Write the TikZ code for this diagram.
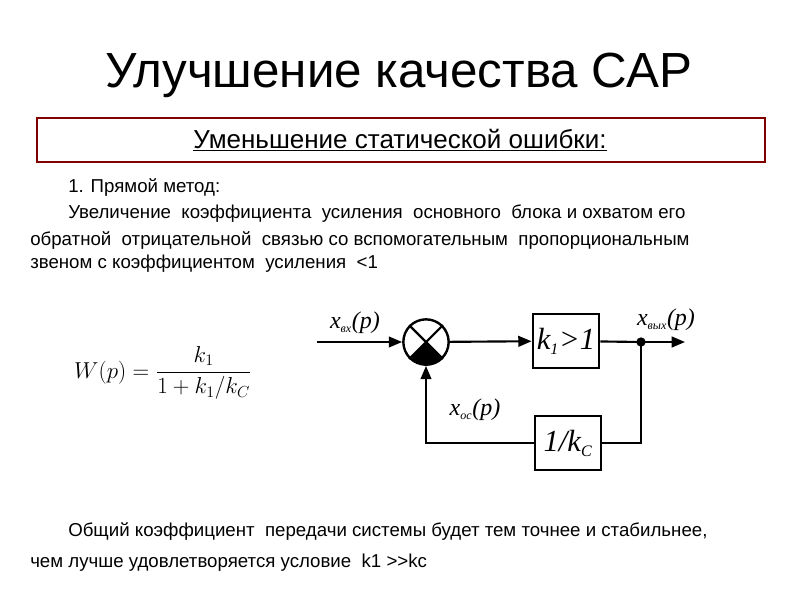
\documentclass[tikz,border=0pt]{standalone}
\usepackage{fontspec}
\setmainfont{Liberation Sans}
\newfontfamily\serifit{Liberation Serif}
\usetikzlibrary{arrows.meta}
\begin{document}
\begin{tikzpicture}[x=0.75pt,y=-0.75pt,
  blk/.style={draw,line width=1.6pt,minimum width=50pt,minimum height=40pt,inner sep=0pt},
  lin/.style={line width=1.6pt},
  arr/.style={lin,-{Triangle[length=10pt,width=8pt]}},
  txt/.style={anchor=west,inner sep=0pt,font=\fontsize{14}{16}\selectfont},
  lab/.style={inner sep=0pt,font=\serifit\itshape\fontsize{18}{20}\selectfont}]
\useasboundingbox (0,0) rectangle (800,600);
\node[inner sep=0pt,font=\fontsize{37}{40}\selectfont] (title) at (399,75) {Улучшение качества САР};
\node[draw=red!50!black,line width=1.6pt,minimum width=546pt,minimum height=33pt,inner sep=0pt] (hdr) at (401,140) {};
\node[inner sep=0pt,font=\fontsize{19.5}{22}\selectfont] (hdrt) at (400,140) {\underline{Уменьшение статической ошибки:}};
\node[txt] (t1) at (68,188) {1. Прямой метод:};
\node[txt] (t2) at (68,214) {Увеличение\ \ коэффициента\ \ усиления\ \ основного\ \ блока\ и\ охватом\ его};
\node[txt] (t3) at (30,241) {обратной\ \ отрицательной\ \ связью\ со\ вспомогательным\ \ пропорциональным};
\node[txt] (t4) at (30,264) {звеном с коэффициентом\ \ усиления\ \ <1};
\node[txt] (t5) at (68,532) {Общий\ коэффициент\ \ передачи\ системы\ будет\ тем\ точнее\ и\ стабильнее,};
\node[txt] (t6) at (30,563) {чем лучше удовлетворяется условие\ \ k1 >{}>kc};
\node[inner sep=0pt,font=\fontsize{17}{18}\selectfont] (W) at (163,373) {$\displaystyle W(p)=\frac{k_1}{1+k_1/k_C}$};
% diagram
\coordinate (in) at (317,342);
\node[circle,draw,line width=1.8pt,minimum size=34pt,inner sep=0pt] (s) at (426,342) {};
\fill (s.center) -- (s.-45) arc(-45:-135:17pt) -- cycle;
\draw[lin] (s.45) -- (s.-135) (s.135) -- (s.-45);
\node[blk] (k1) at (566,341) {\serifit\itshape\fontsize{23}{25}\selectfont k\textsubscript{\fontsize{12}{13}\selectfont 1}>1};
\node[blk] (kc) at (568,443) {\serifit\itshape\fontsize{23}{25}\selectfont 1/k\textsubscript{\fontsize{12}{13}\selectfont C}};
\coordinate (br) at (641,342);
\coordinate (out) at (685,342);
\fill (br) circle (3.5pt);
\draw[arr] (in) -- (s);
\draw[arr] (s) -- (k1);
\draw[lin] (k1) -- (br);
\draw[arr] (br) -- (out);
\draw[lin] (br) |- (kc);
\draw[arr] (kc) -| (s);
\node[lab] (l1) at (355,323) {x\textsubscript{\fontsize{9}{10}\selectfont вх}(p)};
\node[lab] (l2) at (666,320) {x\textsubscript{\fontsize{9}{10}\selectfont вых}(p)};
\node[lab] (l3) at (475,410) {x\textsubscript{\fontsize{9}{10}\selectfont ос}(p)};
\end{tikzpicture}
\end{document}
